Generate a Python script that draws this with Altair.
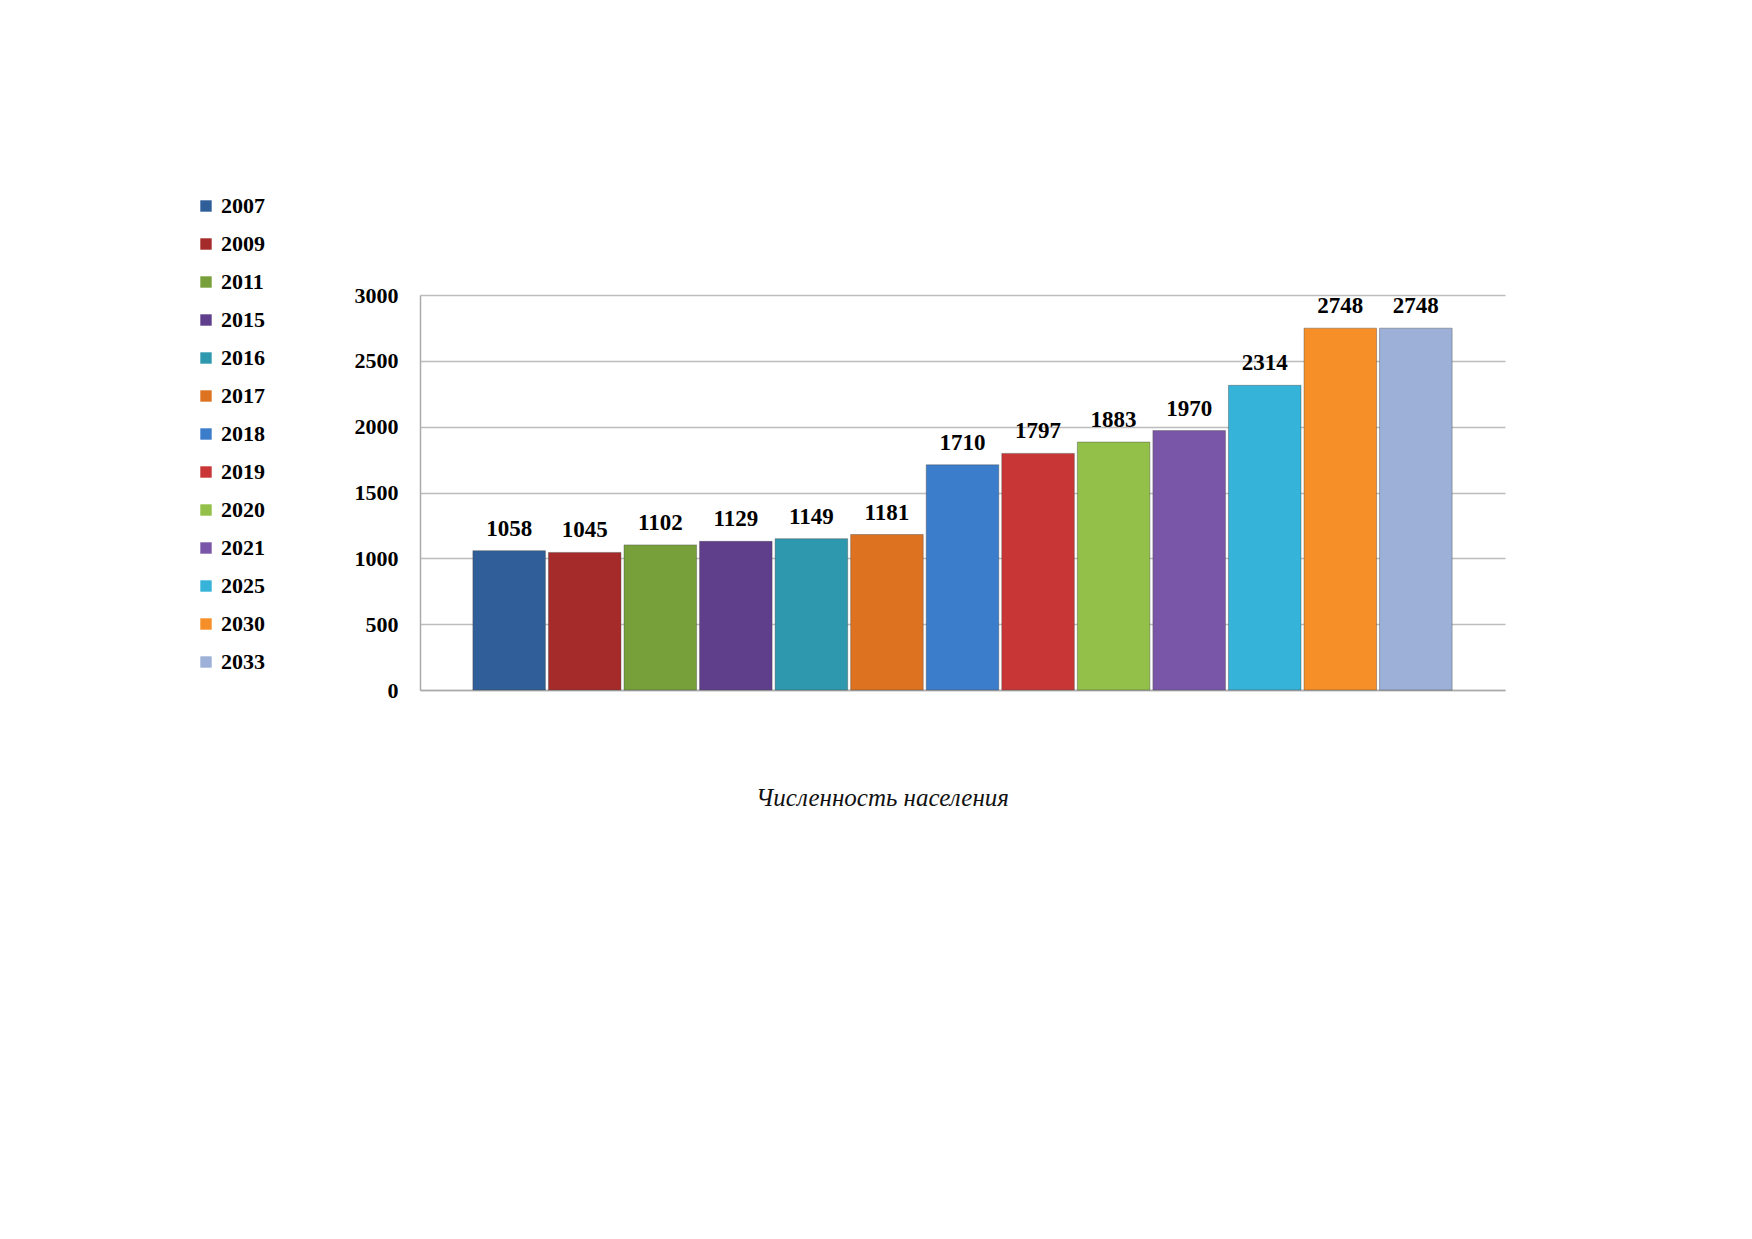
import altair as alt
import pandas as pd

years = ["2007", "2009", "2011", "2015", "2016", "2017", "2018",
         "2019", "2020", "2021", "2025", "2030", "2033"]
values = [1058, 1045, 1102, 1129, 1149, 1181, 1710,
          1797, 1883, 1970, 2314, 2748, 2748]
colors = ["#2F5E99", "#A52A2A", "#77A03A", "#5F3F8C", "#2E98AE", "#DD7320",
          "#3C7DCB", "#C83636", "#93C048", "#7A56A8", "#36B3D8", "#F68F28",
          "#9CB0D8"]
y_ticks = [0, 500, 1000, 1500, 2000, 2500, 3000]
x_title = "Численность населения"

df = pd.DataFrame({"year": years, "value": values})

serif = "Liberation Serif"

color_scale = alt.Scale(domain=years, range=colors)

x_enc = alt.X(
    "year:N",
    sort=years,
    scale=alt.Scale(paddingInner=0.04, paddingOuter=0.7),
    axis=alt.Axis(
        title=x_title,
        labels=False,
        ticks=False,
        grid=False,
        domainColor="#AAAAAA",
        domainWidth=1.5,
        titleFont=serif,
        titleFontStyle="italic",
        titleFontWeight="normal",
        titleFontSize=25,
        titleColor="#111111",
        titlePadding=95,
        titleX=462,
        titleAlign="center",
    ),
)
y_enc = alt.Y(
    "value:Q",
    scale=alt.Scale(domain=[0, 3000]),
    axis=alt.Axis(
        title=None,
        values=y_ticks,
        format="d",
        labelFont=serif,
        labelFontWeight="bold",
        labelFontSize=22,
        labelColor="#000000",
        labelPadding=22,
        ticks=False,
        domainColor="#AAAAAA",
        domainWidth=1.5,
        gridColor="#BDBDBD",
        gridWidth=1.5,
    ),
)

base = alt.Chart(df).encode(x=x_enc, y=y_enc)

bars = base.mark_bar(stroke="#444444", strokeWidth=0.8, strokeOpacity=0.5).encode(
    color=alt.Color(
        "year:N",
        sort=years,
        scale=color_scale,
        legend=alt.Legend(
            title=None,
            orient="none",
            legendX=-225,
            legendY=-100,
            symbolType="square",
            symbolSize=130,
            symbolStrokeWidth=0,
            labelFont=serif,
            labelFontWeight="bold",
            labelFontSize=22,
            labelColor="#000000",
            rowPadding=16,
            labelOffset=4,
        ),
    ),
)

labels = base.mark_text(
    dy=-22, font=serif, fontWeight="bold", fontSize=23, color="#000000"
).encode(text="value:Q")

chart = (
    alt.layer(bars, labels)
    .properties(
        width=1085,
        height=395,
        background="#FFFFFF",
        autosize=alt.AutoSizeParams(type="none"),
        padding={"left": 412, "top": 287, "right": 10, "bottom": 400},
        view=alt.ViewBackground(stroke="transparent", strokeWidth=0),
    )
    .configure_view(stroke="transparent", strokeWidth=0)
)

chart.save("out.html", embed_options={"renderer": "svg", "actions": False})
